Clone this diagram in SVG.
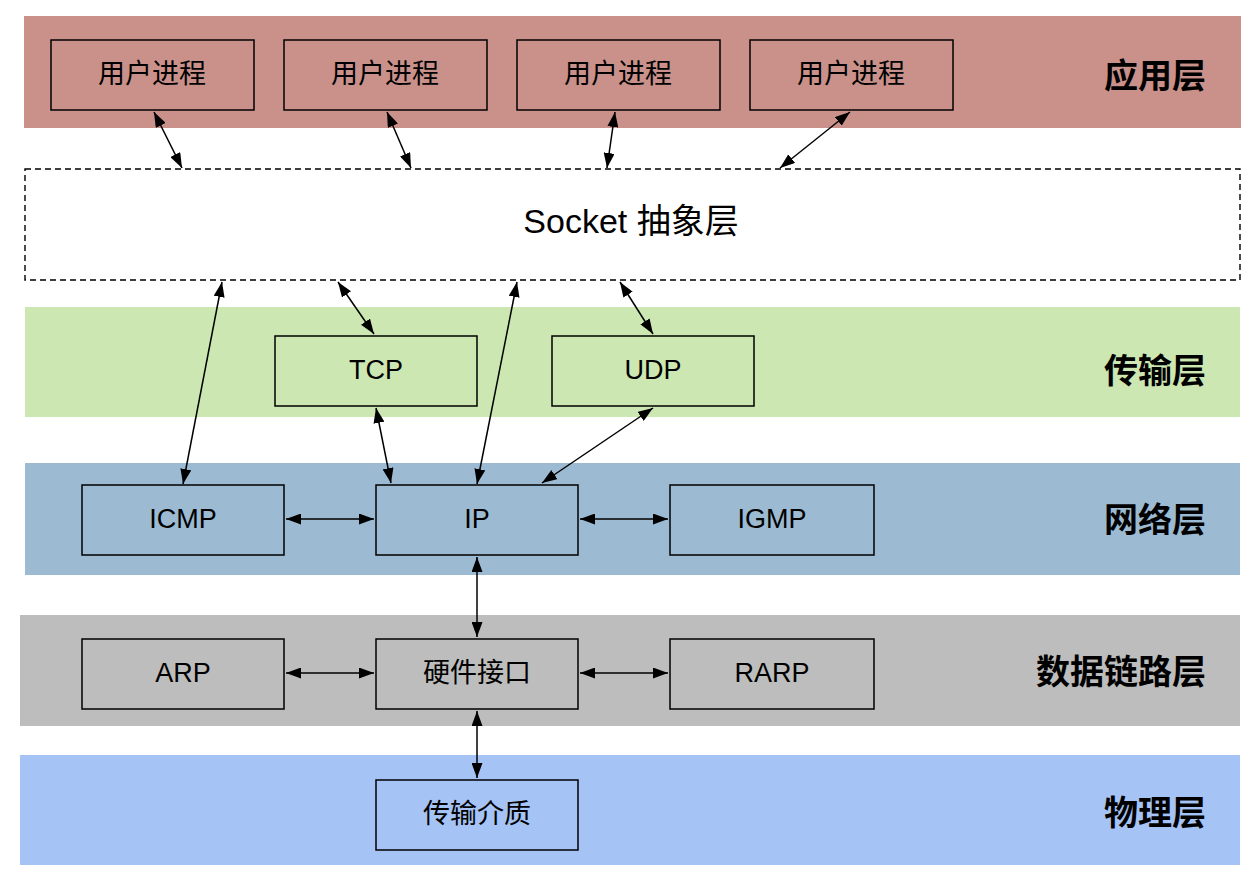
<svg xmlns="http://www.w3.org/2000/svg" width="1260" height="874" viewBox="0 0 1260 874">
<defs>
<marker id="ah" viewBox="0 0 15 11" refX="15" refY="5.5" markerWidth="15" markerHeight="11" markerUnits="userSpaceOnUse" orient="auto-start-reverse">
<path d="M0,0 L15,5.5 L0,11 z" fill="#000"/>
</marker>
</defs>
<style>
.box{fill:none;stroke:#000;stroke-width:1.5}
.t{font-family:"Liberation Sans","Noto Sans CJK SC",sans-serif;font-size:27px;fill:#000;text-anchor:middle;dominant-baseline:central}
.lbl{font-family:"Noto Sans CJK SC",sans-serif;font-size:34px;font-weight:bold;fill:#000;text-anchor:end;dominant-baseline:central}
.c line{stroke:#000;stroke-width:1.5;marker-start:url(#ah);marker-end:url(#ah)}
</style>
<rect width="1260" height="874" fill="#fff"/>
<g id="bands">
<rect x="24" y="16" width="1217" height="112" fill="#c9918a"/>
<rect x="25" y="169" width="1215" height="111" fill="#fff" stroke="#000" stroke-width="1.4" stroke-dasharray="6,4"/>
<rect x="25" y="307" width="1215" height="110" fill="#cce7b1"/>
<rect x="25" y="463" width="1215" height="112" fill="#9cbad2"/>
<rect x="20" y="615" width="1220" height="111" fill="#bdbdbd"/>
<rect x="20" y="755" width="1220" height="110" fill="#a5c3f5"/>
</g>
<g id="labels">
<text class="lbl" x="1206" y="73">应用层</text>
<text class="t" x="631" y="221" style="font-size:34px">Socket 抽象层</text>
<text class="lbl" x="1206" y="368">传输层</text>
<text class="lbl" x="1206" y="517">网络层</text>
<text class="lbl" x="1206" y="669">数据链路层</text>
<text class="lbl" x="1206" y="810">物理层</text>
</g>
<g id="up1"><rect class="box" x="51" y="40" width="203" height="70"/><text class="t" x="152" y="74">用户进程</text></g>
<g id="up2"><rect class="box" x="284" y="40" width="203" height="70"/><text class="t" x="385" y="74">用户进程</text></g>
<g id="up3"><rect class="box" x="517" y="40" width="203" height="70"/><text class="t" x="618" y="74">用户进程</text></g>
<g id="up4"><rect class="box" x="750" y="40" width="203" height="70"/><text class="t" x="851" y="74">用户进程</text></g>
<g id="tcp"><rect class="box" x="275" y="336" width="202" height="70"/><text class="t" x="376" y="370">TCP</text></g>
<g id="udp"><rect class="box" x="552" y="336" width="202" height="70"/><text class="t" x="653" y="370">UDP</text></g>
<g id="icmp"><rect class="box" x="82" y="485" width="202" height="70"/><text class="t" x="183" y="519">ICMP</text></g>
<g id="ip"><rect class="box" x="376" y="485" width="202" height="70"/><text class="t" x="477" y="519">IP</text></g>
<g id="igmp"><rect class="box" x="670" y="485" width="204" height="70"/><text class="t" x="772" y="519">IGMP</text></g>
<g id="arp"><rect class="box" x="82" y="639" width="202" height="70"/><text class="t" x="183" y="673">ARP</text></g>
<g id="hw"><rect class="box" x="376" y="639" width="202" height="70"/><text class="t" x="477" y="673">硬件接口</text></g>
<g id="rarp"><rect class="box" x="670" y="639" width="204" height="70"/><text class="t" x="772" y="673">RARP</text></g>
<g id="media"><rect class="box" x="376" y="780" width="202" height="70"/><text class="t" x="477" y="814">传输介质</text></g>
<g id="connectors" class="c">
<line x1="154" y1="112" x2="182" y2="168"/>
<line x1="387" y1="112" x2="411" y2="168"/>
<line x1="615" y1="112" x2="607" y2="168"/>
<line x1="850" y1="112" x2="780" y2="168"/>
<line x1="222" y1="282" x2="183" y2="484"/>
<line x1="338" y1="282" x2="374" y2="334"/>
<line x1="517" y1="282" x2="477" y2="484"/>
<line x1="620" y1="282" x2="653" y2="334"/>
<line x1="376" y1="408" x2="391" y2="483"/>
<line x1="653" y1="408" x2="542" y2="483"/>
<line x1="286" y1="519" x2="374" y2="519"/>
<line x1="580" y1="519" x2="668" y2="519"/>
<line x1="477" y1="557" x2="477" y2="637"/>
<line x1="286" y1="673" x2="374" y2="673"/>
<line x1="580" y1="673" x2="668" y2="673"/>
<line x1="477" y1="711" x2="477" y2="778"/>
</g>
</svg>
